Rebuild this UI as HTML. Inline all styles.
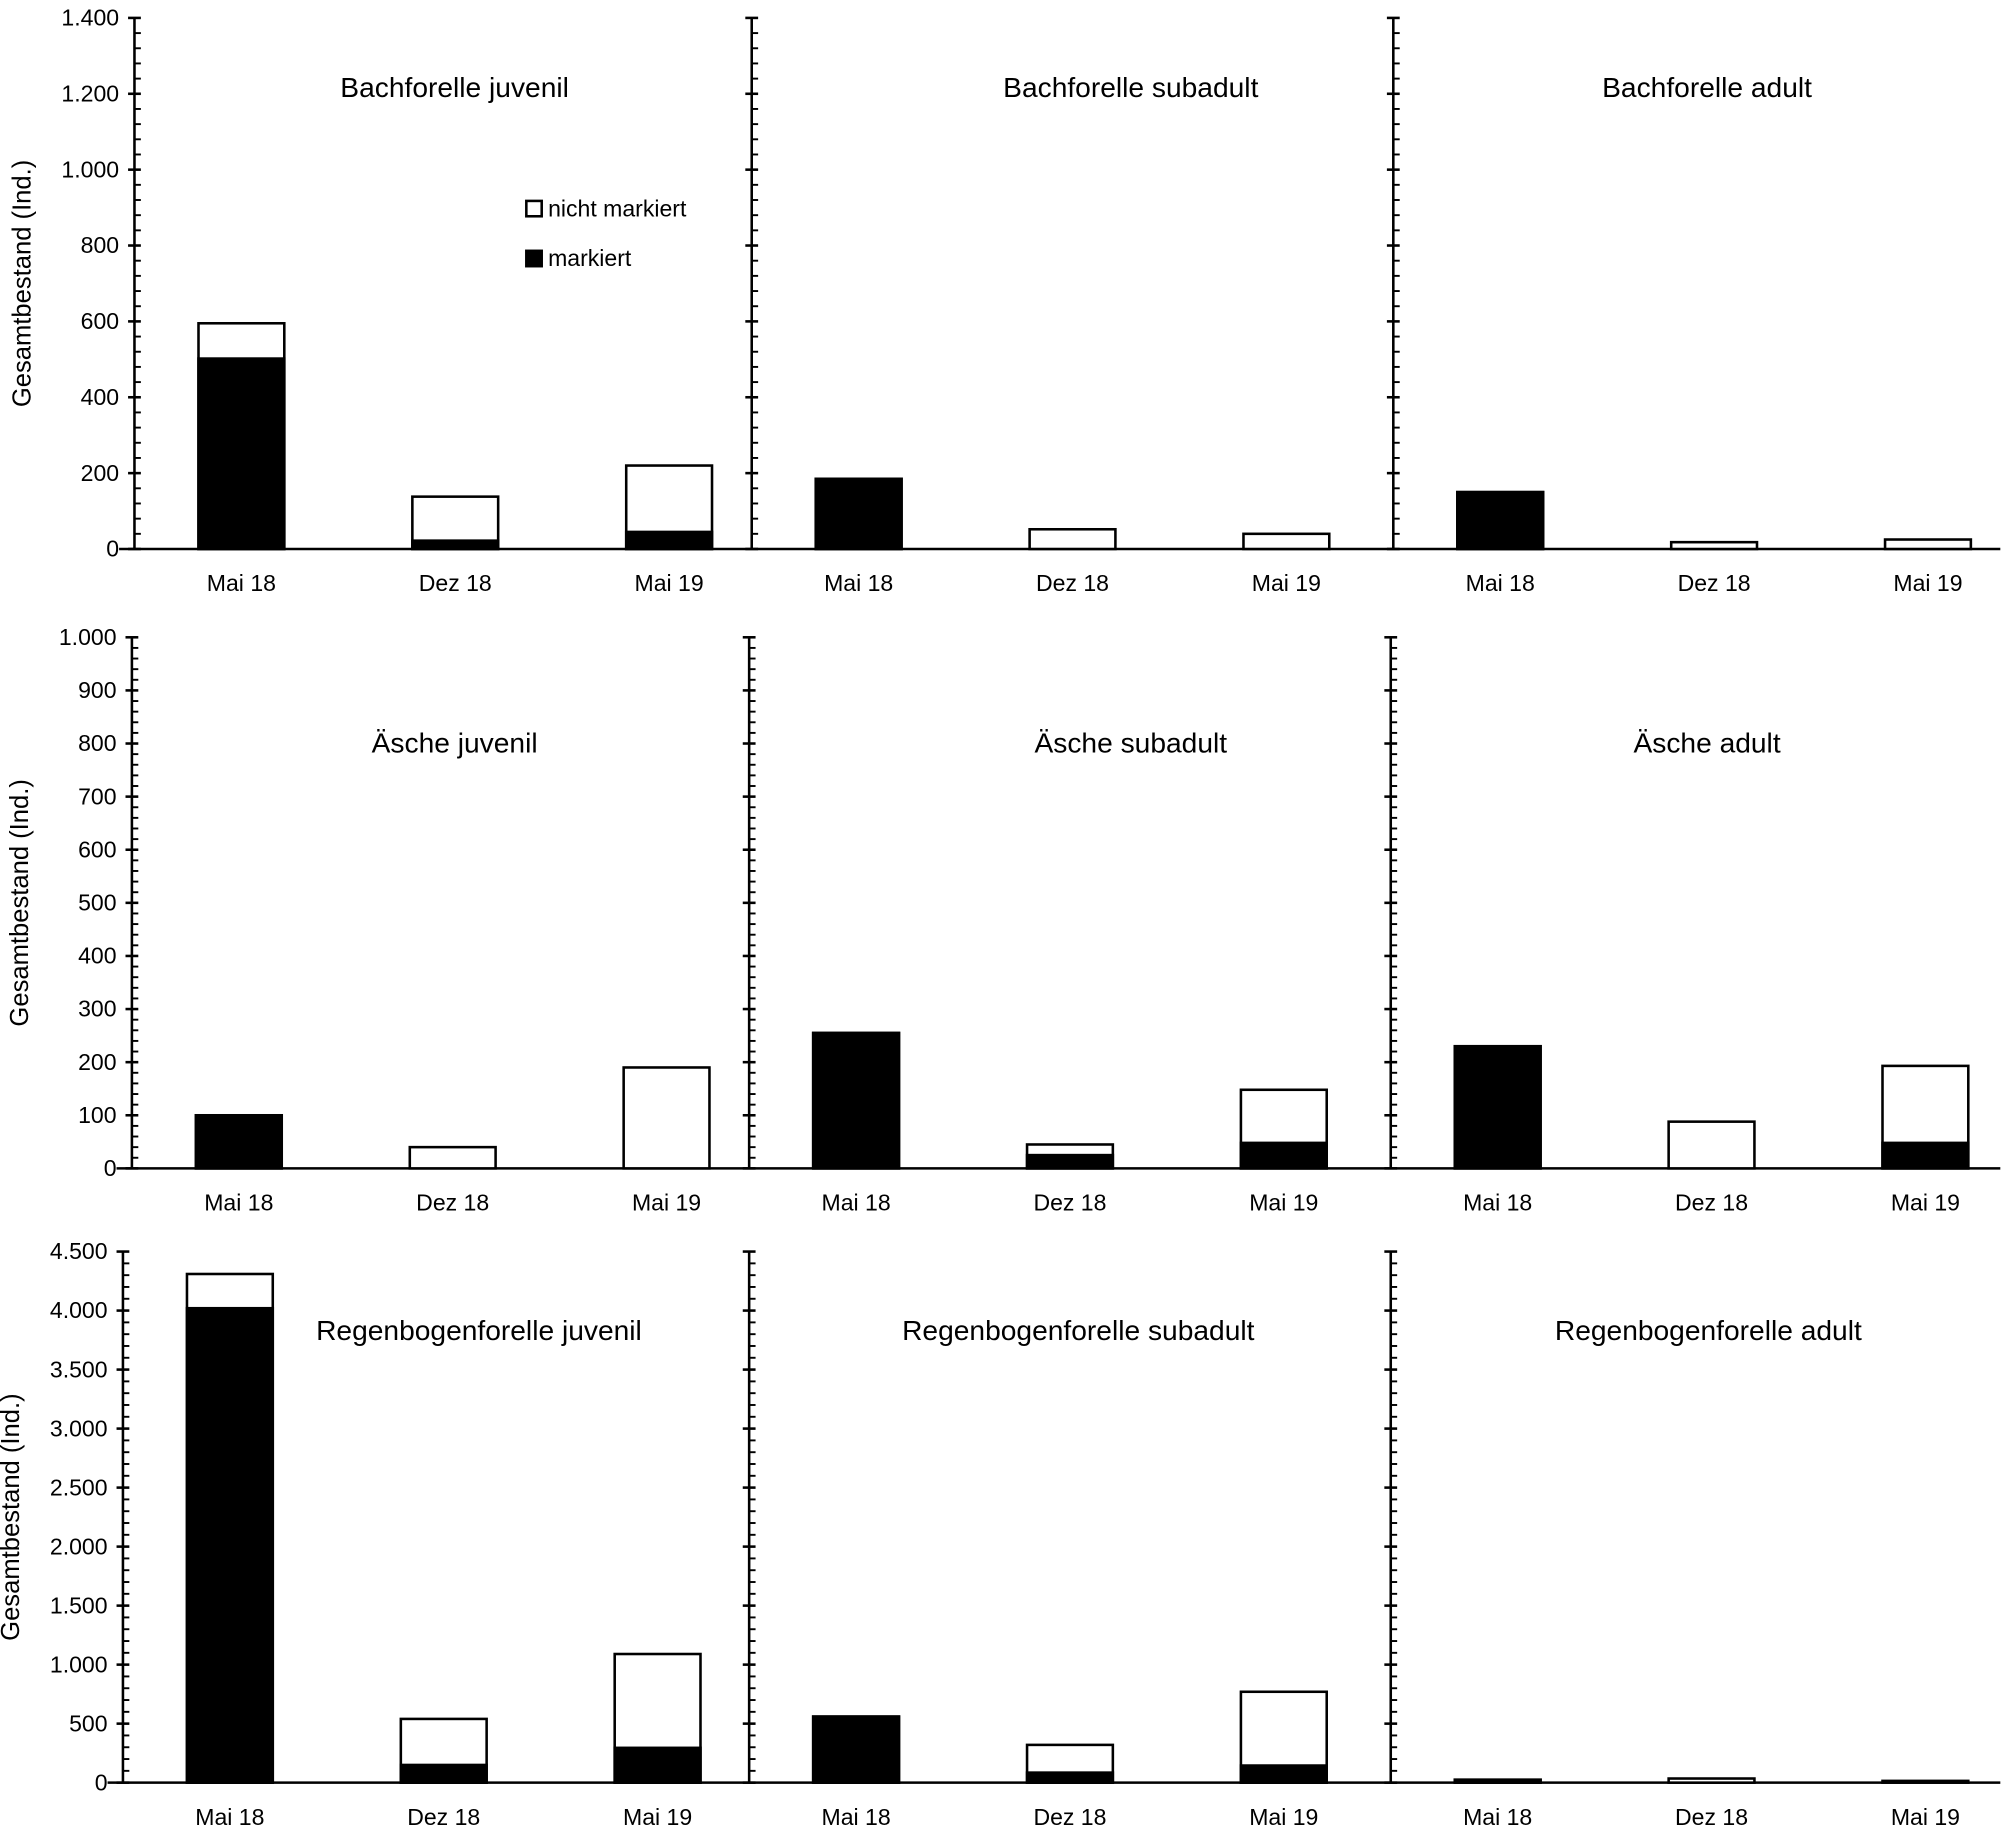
<!DOCTYPE html>
<html><head><meta charset="utf-8"><style>
html,body{margin:0;padding:0;background:#fff;}
svg{display:block;font-family:"Liberation Sans",sans-serif;}
</style></head><body>
<svg id="chart" width="2008" height="1830" viewBox="0 0 1568 1430" preserveAspectRatio="none" xmlns="http://www.w3.org/2000/svg"></svg>
<script>
const categories = ["Mai 18","Dez 18","Mai 19"];
const titles = ["Bachforelle juvenil","Bachforelle subadult","Bachforelle adult","Äsche juvenil","Äsche subadult","Äsche adult","Regenbogenforelle juvenil","Regenbogenforelle subadult","Regenbogenforelle adult"];
const totals = [[595,138,220],[185,52,40],[150,18,25],[100,40,190],[255,45,148],[230,88,193],[4310,540,1090],[560,320,770],[25,35,15]];
const marked = [[502,22,45],[185,0,0],[150,0,0],[100,0,0],[255,25,48],[230,0,48],[4020,150,295],[560,85,145],[25,0,0]];
const rowMax = [1400,1000,4500];
const rowMajor = [200,100,500];
const rowMinor = [40,20,100];
const yTickLabels = [["0","200","400","600","800","1.000","1.200","1.400"],["0","100","200","300","400","500","600","700","800","900","1.000"],["0","500","1.000","1.500","2.000","2.500","3.000","3.500","4.000","4.500"]];

const NS="http://www.w3.org/2000/svg";
const svg=document.getElementById('chart');
function el(t,a,p){const e=document.createElementNS(NS,t);for(const k in a)e.setAttribute(k,a[k]);(p||svg).appendChild(e);return e;}
const rows=[{top:14,zero:429,ax:[105,587,1088]},{top:498,zero:913,ax:[103,585,1086]},{top:978,zero:1393,ax:[96,585,1086]}];
const barOff=[50,217,384], barW=67;
for(let r=0;r<3;r++){
  const R=rows[r];
  const y=v=>R.zero-(v/rowMax[r])*(R.zero-R.top);
  const g=el('g',{});
  
  
  const base=el('line',{x1:R.ax[0]-12,x2:1562,y1:R.zero,y2:R.zero,stroke:'#000','stroke-width':2},g);
  
  
  const yt=el('text',{x:0,y:0,'font-size':20,'text-anchor':'middle',transform:`translate(${R.ax[0]-81},${(R.top+R.zero)/2}) rotate(-90)`},g);
  yt.textContent='Gesamtbestand (Ind.)';
  
  
  for(let i=0;i<yTickLabels[r].length;i++){
    const v=i*rowMajor[r];
    const t=el('text',{x:R.ax[0]-12,y:y(v)+6,'font-size':18,'text-anchor':'end'},g);
    t.textContent=yTickLabels[r][i];
    
    
  }
  for(let p=0;p<3;p++){
    const idx=r*3+p, ax=R.ax[p];
    const a=el('line',{x1:ax,x2:ax,y1:R.top,y2:R.zero,stroke:'#000','stroke-width':2},g);
    
    
    for(let v=0;v<=rowMax[r]+0.01;v+=rowMinor[r]){
      const maj=Math.abs(v/rowMajor[r]-Math.round(v/rowMajor[r]))<1e-6;
      el('line',{x1:maj?ax-5:ax,x2:ax+5,y1:y(v),y2:y(v),stroke:'#000','stroke-width':maj?2:1.5},g);
    }
    const tt=el('text',{x:0,y:0,'font-size':22,'text-anchor':'middle'},g);
    tt.textContent=titles[idx];
    
    
    const tx=[355,883,1333][p], ty=[76,588,1047][r];
    tt.setAttribute('x', r==2&&p==0? 374 : (r==2&&p==1?842:(r==2&&p==2?1334:tx)));
    tt.setAttribute('y',ty);
    for(let c=0;c<3;c++){
      const bx=ax+barOff[c];
      const tot=totals[idx][c], mk=marked[idx][c];
      const w=el('rect',{x:bx,y:y(tot),width:barW,height:R.zero-y(tot),fill:'#fff',stroke:'#000','stroke-width':2},g);
      
      
      if(mk>0){
        const b=el('rect',{x:bx,y:y(mk),width:barW,height:R.zero-y(mk),fill:'#000',stroke:'#000','stroke-width':2},g);
        
        
      }
      const xl=el('text',{x:bx+barW/2,y:R.zero+33,'font-size':18,'text-anchor':'middle'},g);
      xl.textContent=categories[c];
      
      
    }
  }
}
const lg=el('g',{});


el('rect',{x:411,y:157,width:12,height:12,fill:'#fff',stroke:'#000','stroke-width':2},lg);
const l1=el('text',{x:428,y:169,'font-size':18},lg);l1.textContent='nicht markiert';


el('rect',{x:411,y:196,width:12,height:12,fill:'#000',stroke:'#000','stroke-width':2},lg);
const l2=el('text',{x:428,y:208,'font-size':18},lg);l2.textContent='markiert';


</script>
</body></html>
